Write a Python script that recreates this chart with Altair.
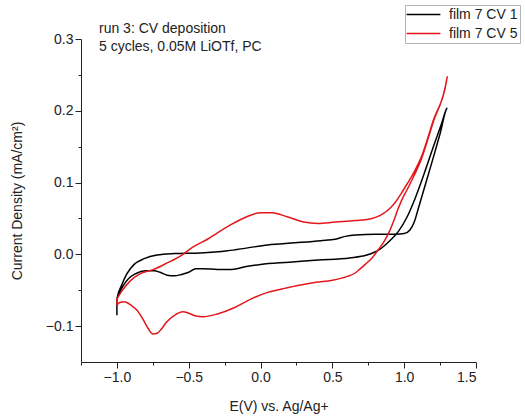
import altair as alt
import pandas as pd

# ---- data ----
series_names = ["film 7 CV 1", "film 7 CV 5"]

cv1_x = [-1.0, -1.0, -0.965, -0.93, -0.88, -0.81, -0.72, -0.6, -0.42, -0.23, -0.09, 0.05, 0.24, 0.42,
         0.52, 0.59, 0.66, 0.8, 0.94, 1.0, 1.04, 1.07, 1.1, 1.14, 1.2, 1.25, 1.3,
         1.26, 1.2, 1.14, 1.08, 1.02, 0.96, 0.9, 0.83, 0.74, 0.62, 0.4, 0.2, 0.0, -0.1, -0.2, -0.3,
         -0.4, -0.45, -0.5, -0.55, -0.6, -0.65, -0.7, -0.74, -0.8, -0.87, -0.92, -0.96, -1.0]
cv1_y = [-0.085, -0.062, -0.042, -0.027, -0.014, -0.006, -0.001, 0.001, 0.002, 0.005, 0.009, 0.013, 0.016, 0.019,
         0.021, 0.025, 0.027, 0.028, 0.028, 0.029, 0.034, 0.045, 0.065, 0.092, 0.133, 0.168, 0.204,
         0.182, 0.148, 0.113, 0.080, 0.052, 0.032, 0.019, 0.007, -0.001, -0.005, -0.008, -0.011, -0.014, -0.017, -0.021, -0.021,
         -0.020, -0.020, -0.025, -0.028, -0.030, -0.029, -0.025, -0.023, -0.023, -0.027, -0.034, -0.045, -0.062]

cv5_x = [-1.0, -0.965, -0.907, -0.836, -0.743, -0.65, -0.556, -0.463, -0.37, -0.3, -0.2, -0.1, 0.0, 0.08,
         0.19, 0.3, 0.4, 0.52, 0.66, 0.776, 0.83, 0.87, 0.91, 0.94, 0.98, 1.02, 1.07, 1.12, 1.2, 1.3,
         1.2, 1.12, 1.06, 1.02, 0.986, 0.955, 0.928, 0.9, 0.869, 0.822, 0.776, 0.729, 0.689, 0.659, 0.6,
         0.5, 0.387, 0.27, 0.155, 0.05, -0.065, -0.18, -0.3, -0.4, -0.45, -0.5, -0.54, -0.6, -0.657,
         -0.69, -0.72, -0.75, -0.78, -0.82, -0.86, -0.9, -0.95, -0.98, -1.0, -1.0]
cv5_y = [-0.062, -0.051, -0.037, -0.027, -0.021, -0.012, -0.002, 0.011, 0.021, 0.030, 0.042, 0.052, 0.058, 0.058,
         0.052, 0.045, 0.043, 0.045, 0.047, 0.050, 0.054, 0.059, 0.066, 0.073, 0.085, 0.098, 0.115, 0.136, 0.185, 0.248,
         0.183, 0.133, 0.106, 0.090, 0.077, 0.062, 0.047, 0.033, 0.021, 0.007, -0.005, -0.014, -0.021, -0.026, -0.031,
         -0.036, -0.039, -0.043, -0.048, -0.053, -0.062, -0.074, -0.083, -0.087, -0.086, -0.082, -0.080, -0.085, -0.095,
         -0.104, -0.110, -0.111, -0.104, -0.090, -0.078, -0.071, -0.066, -0.067, -0.070, -0.062]

note_lines = ["run 3: CV deposition", "5 cycles, 0.05M LiOTf, PC"]

x_major = [-1.0, -0.5, 0.0, 0.5, 1.0, 1.5]
x_minor = [-1.25, -0.75, -0.25, 0.25, 0.75, 1.25]
y_major = [-0.1, 0.0, 0.1, 0.2, 0.3]
y_minor = [-0.05, 0.05, 0.15, 0.25]

rows = []
for name, xs, ys in [(series_names[0], cv1_x, cv1_y), (series_names[1], cv5_x, cv5_y)]:
    for i, (a, b) in enumerate(zip(xs, ys)):
        rows.append({"series": name, "E": a, "J": b, "idx": i})
df = pd.DataFrame(rows)

FONT = "Liberation Sans"
FS = 14
xscale = alt.Scale(domain=[-1.25, 1.5], nice=False, zero=False)
yscale = alt.Scale(domain=[-0.15, 0.3], nice=False, zero=False)

lines = alt.Chart(df).mark_line(strokeWidth=1.5, interpolate="monotone").encode(
    x=alt.X("E:Q", scale=xscale, axis=alt.Axis(
        values=x_major, format=".1f", title="E(V) vs. Ag/Ag+", grid=False,
        tickSize=6, tickColor="#222", domainColor="#222", labelColor="#222",
        labelFont=FONT, labelFontSize=FS, labelPadding=2,
        titleFont=FONT, titleFontSize=FS, titleFontWeight="normal", titleColor="#222",
        titlePadding=15, orient="bottom")),
    y=alt.Y("J:Q", scale=yscale, axis=alt.Axis(
        values=y_major, format=".1f", title="Current Density (mA/cm²)", grid=False,
        tickSize=6, tickColor="#222", domainColor="#222", labelColor="#222",
        labelFont=FONT, labelFontSize=FS, labelPadding=2,
        titleFont=FONT, titleFontSize=FS, titleFontWeight="normal", titleColor="#222",
        titlePadding=21, orient="left")),
    color=alt.Color("series:N", scale=alt.Scale(domain=series_names, range=["#000000", "#e3171b"]),
                    legend=alt.Legend(orient="none", legendX=324, legendY=-34, title=None,
                                      symbolType="M-2.6,0H2.6", symbolSize=169, symbolStrokeWidth=1.5,
                                      symbolOffset=9, labelOffset=18,
                                      labelFont=FONT, labelFontSize=FS, labelColor="#222",
                                      strokeColor="#b5b5b5", fillColor="white", padding=2,
                                      rowPadding=4)),
    detail="series:N",
    order=alt.Order("idx:Q"),
)

minor = alt.Chart(df).mark_point(opacity=0).encode(
    x=alt.X("E:Q", scale=xscale, axis=alt.Axis(values=x_minor, labels=False, title=None, grid=False,
                                                tickSize=3, tickColor="#222", domain=False, orient="bottom")),
    y=alt.Y("J:Q", scale=yscale, axis=alt.Axis(values=y_minor, labels=False, title=None, grid=False,
                                                tickSize=3, tickColor="#222", domain=False, orient="left")),
)

notes_df = pd.DataFrame({"t": note_lines, "k": [0, 1]})
note1 = alt.Chart(notes_df).transform_filter("datum.k == 0").mark_text(
    align="left", baseline="alphabetic", font=FONT, fontSize=FS, color="#222"
).encode(text="t:N", x=alt.value(18), y=alt.value(-6))
note2 = alt.Chart(notes_df).transform_filter("datum.k == 1").mark_text(
    align="left", baseline="alphabetic", font=FONT, fontSize=FS, color="#222"
).encode(text="t:N", x=alt.value(18), y=alt.value(11.5))

chart = alt.layer(lines, minor, note1, note2).resolve_axis(x="independent", y="independent").properties(
    width=395, height=323,
    padding={"left": 81, "top": 39, "right": 49, "bottom": 56},
    autosize=alt.AutoSizeParams(type="none"),
    background="white",
).configure_view(stroke=None)

chart.save("out.html", embed_options={"renderer": "svg", "actions": False})
